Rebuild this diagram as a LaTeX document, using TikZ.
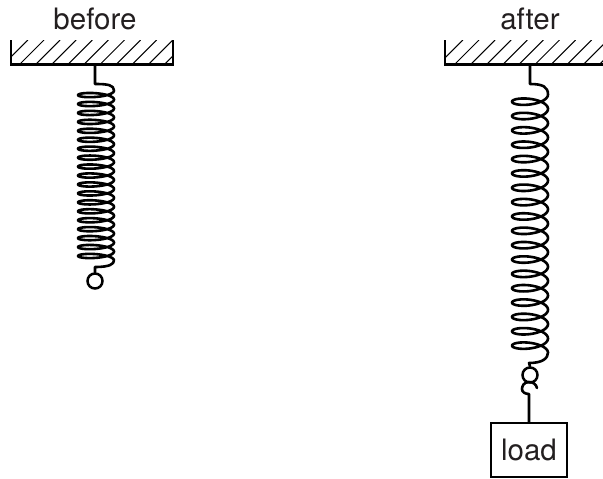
\documentclass[tikz,border=0pt]{standalone}
\usepackage{fontspec}
\setmainfont{TeX Gyre Heros}
\definecolor{inkc}{HTML}{231F20}
\tikzset{
  lbl/.style={font=\fontsize{29.5}{30}\selectfont,text=inkc,inner sep=0pt,anchor=base},
  wall/.style={line width=2.5pt,black},
  hatch/.style={line width=1pt,black},
  wire/.style={line width=2.6pt,black,line join=round,line cap=round},
  ringn/.style={circle,draw=black,line width=2.5pt,minimum size=15pt,inner sep=0pt},
  loadbox/.style={rectangle,draw=black,line width=2.5pt,minimum width=76pt,minimum height=54pt,inner sep=0pt,font=\fontsize{29.5}{30}\selectfont,text=inkc}
}
\begin{document}
\begin{tikzpicture}[x=1pt,y=-1pt]
\useasboundingbox (0,0) rectangle (603,479);
% labels
\node[lbl] (tb) at (95,29) {before};
\node[lbl] (ta) at (530,29) {after};
% ceilings
\begin{scope}
\clip (11,40) rectangle (173,64);
\foreach \i in {-1,...,10} \draw[hatch] ({20+16.1*\i},64) -- ({44+16.1*\i},40);
\end{scope}
\begin{scope}
\clip (445,40) rectangle (603,64);
\foreach \i in {-1,...,10} \draw[hatch] ({455+16.1*\i},64) -- ({479+16.1*\i},40);
\end{scope}
\draw[wall] (11,40) -- (11,64.5) -- (173,64.5) -- (173,40);
\draw[wall] (445,40) -- (445,64.5) -- (603,64.5);
\coordinate (c1) at (95,64.5);
\coordinate (c2) at (530,64.5);
% before spring
\node[ringn] (r1) at (95,281) {};
\draw[wire] (c1) -- (95,84) .. controls (108,84) and (114,85) .. (114,90.6)
  -- plot[domain=0:19,samples=800,smooth,variable=\t] ({96+18*cos(\t*360)},{90.6+8.94*\t+4.1*sin(\t*360)})
  .. controls (114,264) and (110,267) .. (95,267) -- (r1.north);
% after spring
\node[ringn] (r2) at (530,375) {};
\node[loadbox] (lb) at (529,450) {load};
\coordinate (hk) at (529,394);
\draw[wire] (c2) -- (530,84) .. controls (543,84) and (548,87) .. (548,94.5)
  -- plot[domain=0:18,samples=800,smooth,variable=\t] ({530+18*cos(\t*360)},{94.5+14.35*\t+6.4*sin(\t*360)})
  .. controls (548,358) and (543,363) .. (529,363) -- (r2.north);
\draw[wire] (537,388) .. controls (536,384) and (533,382) .. (529,382)
  .. controls (524,382) and (522,386) .. (522,389) .. controls (522,392) and (525,394) .. (hk)
  -- (lb.north);
\end{tikzpicture}
\end{document}
